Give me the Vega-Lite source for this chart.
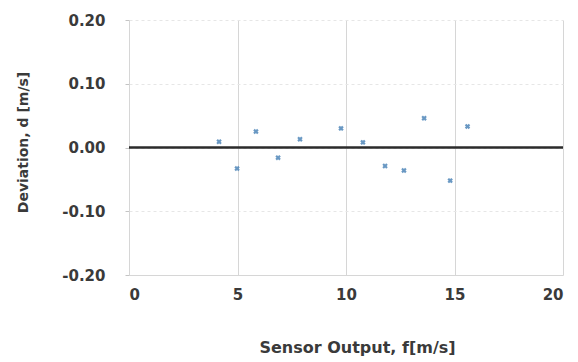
{
  "$schema": "https://vega.github.io/schema/vega-lite/v6.json",
  "width": 434,
  "height": 255,
  "autosize": "none",
  "padding": {"left": 129, "top": 20, "right": 15, "bottom": 87},
  "background": "white",
  "config": {
    "view": {"stroke": null},
    "axis": {"labelFont": "DejaVu Sans", "titleFont": "DejaVu Sans", "labelFontWeight": "bold", "titleFontWeight": "bold", "labelColor": "#3a3a3a", "titleColor": "#3a3a3a", "labelFontSize": 15, "titleFontSize": 14}
  },
  "datasets": {
    "pts": [
      {"f": 4.15, "d": 0.009},
      {"f": 4.98, "d": -0.033},
      {"f": 5.85, "d": 0.025},
      {"f": 6.87, "d": -0.016},
      {"f": 7.88, "d": 0.013},
      {"f": 9.77, "d": 0.030},
      {"f": 10.78, "d": 0.008},
      {"f": 11.8, "d": -0.029},
      {"f": 12.67, "d": -0.036},
      {"f": 13.6, "d": 0.046},
      {"f": 14.8, "d": -0.052},
      {"f": 15.6, "d": 0.033}
    ],
    "zero": [{"f": 0, "d": 0}, {"f": 20, "d": 0}]
  },
  "layer": [
    {
      "data": {"name": "pts"},
      "mark": {"type": "point", "shape": "cross", "angle": 45, "filled": true, "size": 30, "color": "#4f86b8", "opacity": 0.85},
      "encoding": {
        "x": {"field": "f", "type": "quantitative", "scale": {"domain": [0, 20], "nice": false},
          "axis": {"values": [0, 5, 10, 15, 20], "title": "Sensor Output, f[m/s]", "titleFontSize": 16, "titleX": 228, "titleY": 72, "titleBaseline": "middle", "labelPadding": 12, "grid": true, "gridColor": "#d6d6d6", "domain": true, "domainColor": "#d6d6d6", "ticks": false}},
        "y": {"field": "d", "type": "quantitative", "scale": {"domain": [-0.2, 0.2], "nice": false},
          "axis": {"values": [-0.2, -0.1, 0, 0.1, 0.2], "labelExpr": "replace(format(datum.value, '.2f'), '\u2212', '-')", "title": "Deviation, d [m/s]", "titleX": -106, "titleY": 122, "titleAnchor": "middle", "titleBaseline": "middle", "labelPadding": 20, "grid": true, "gridColor": "#e6e6e6", "gridDash": [3, 3], "domain": true, "domainColor": "#d6d6d6", "ticks": true, "tickColor": "#c4c4c4", "tickSize": 4}}
      }
    },
    {
      "data": {"name": "zero"},
      "mark": {"type": "line", "color": "#2b2b2b", "strokeWidth": 2.5},
      "encoding": {
        "x": {"field": "f", "type": "quantitative"},
        "y": {"field": "d", "type": "quantitative"}
      }
    }
  ]
}
